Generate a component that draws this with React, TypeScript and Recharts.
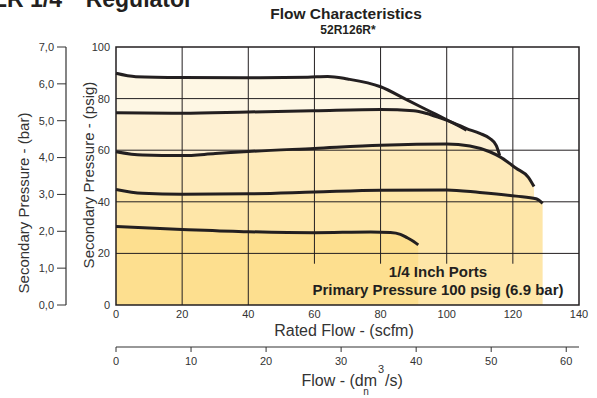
import { ComposedChart, Area, Line, XAxis, YAxis, ReferenceLine, ReferenceArea } from "recharts"

// 52R126R* flow curves (scfm -> psig)
const flowA = [0, 6, 20, 40, 58, 64, 70, 80, 88, 95, 100, 106]
const psigA = [89.8, 88.5, 88.2, 88.1, 88.3, 88.6, 87.6, 84.6, 79.5, 75, 71.8, 67.8]

const flowB = [0, 20, 40, 60, 80, 90, 94, 98, 102, 106, 110, 113, 115, 116]
const psigB = [74.5, 74.3, 74.8, 75.3, 75.8, 75.3, 74.2, 72.5, 70.6, 68.4, 66.5, 64.6, 61.8, 58]

const flowC = [0, 8, 20, 30, 40, 60, 80, 100, 107, 113, 116, 121, 124.7, 126.4]
const psigC = [59.4, 58.1, 57.9, 58.7, 59.5, 60.7, 61.9, 62.4, 61.6, 59.4, 57.5, 53, 49.5, 45.9]

const flowD = [0, 8, 20, 40, 60, 80, 100, 110, 121, 127, 129]
const psigD = [44.8, 43.3, 42.9, 43.1, 43.8, 44.5, 44.6, 43.6, 42.2, 41.2, 39.4]

const flowE = [0, 10, 20, 40, 60, 77, 83, 86, 88, 90, 91.4]
const psigE = [30.4, 29.8, 29.3, 28.4, 28.0, 28.3, 28.1, 27.4, 26.1, 24.6, 23.3]

const scfmTicks = [0, 20, 40, 60, 80, 100, 120, 140]
const psigTicks = [0, 20, 40, 60, 80, 100]
const barTicks = [0, 1, 2, 3, 4, 5, 6, 7]
const dmTicks = [0, 10, 20, 30, 40, 50, 60]
const vGrid = [20, 40, 60, 80, 100, 120]
const hGrid = [20, 40, 60, 80]

const FILLS = ["#FEF7E4", "#FEF0D2", "#FEEABA", "#FEE6A8", "#FDDF8F"]
const INK = "#231F20"
const FONT = "'Liberation Sans', Arial, Helvetica, sans-serif"
const GRID_CUT = 16 // vertical lines right of 50 scfm stop above the note

// axis ids: recharts stacks them by id, "a-" sits next to the plot
const X_SCFM = "a-scfm"
const X_DM = "b-dm"
const Y_PSIG = "a-psig"
const Y_BAR = "b-bar"

function toPoints(flow: number[], psig: number[]) {
  return flow.map((f, i) => ({ flow: f, psig: psig[i] }))
}

const curves = [
  toPoints(flowA, psigA),
  toPoints(flowB, psigB),
  toPoints(flowC, psigC),
  toPoints(flowD, psigD),
  toPoints(flowE, psigE),
]

const tickStyle = { fontSize: 11, fill: "#333", fontFamily: FONT }

function barFormat(v: number): string {
  return v.toFixed(1).replace(".", ",")
}

export default function App() {
  return (
    <div style={{ position: "absolute", left: 0, top: 0, width: 597, height: 398, background: "#fff" }}>
      <ComposedChart width={597} height={398} margin={{ top: 47, right: 18, bottom: 6, left: 6 }}>
        <XAxis
          xAxisId={X_SCFM}
          dataKey="flow"
          type="number"
          domain={[0, 140]}
          ticks={scfmTicks}
          interval={0}
          axisLine={false}
          tickLine={false}
          tickSize={3}
          tickMargin={2}
          height={42}
          tick={tickStyle}
        />
        <XAxis
          xAxisId={X_DM}
          dataKey="flow"
          type="number"
          domain={[0, 61.7]}
          allowDataOverflow
          ticks={dmTicks}
          interval={0}
          axisLine={{ stroke: "#333", strokeWidth: 1.2 }}
          tickLine={{ stroke: "#333" }}
          tickSize={5}
          tickMargin={5}
          height={45}
          tick={tickStyle}
        />
        <YAxis
          yAxisId={Y_PSIG}
          type="number"
          domain={[0, 100]}
          ticks={psigTicks}
          interval={0}
          axisLine={false}
          tickLine={false}
          tickSize={2}
          tickMargin={4}
          width={50}
          tick={tickStyle}
        />
        <YAxis
          yAxisId={Y_BAR}
          type="number"
          domain={[0, 7]}
          allowDataOverflow
          ticks={barTicks}
          interval={0}
          tickFormatter={barFormat}
          axisLine={{ stroke: "#333", strokeWidth: 1.2 }}
          tickLine={{ stroke: "#333" }}
          tickSize={9}
          tickMargin={3}
          width={60}
          tick={tickStyle}
        />

        {curves.map((pts, i) => (
          <Area
            key={"area" + i}
            data={pts}
            dataKey="psig"
            xAxisId={X_SCFM}
            yAxisId={Y_PSIG}
            type="monotone"
            fill={FILLS[i]}
            fillOpacity={1}
            stroke="none"
            isAnimationActive={false}
          />
        ))}

        {hGrid.map((y) => (
          <ReferenceLine key={"h" + y} y={y} xAxisId={X_SCFM} yAxisId={Y_PSIG} stroke={INK} strokeWidth={1} />
        ))}
        {vGrid.map((x) => (
          <ReferenceLine
            key={"v" + x}
            segment={[
              { x, y: x > 50 ? GRID_CUT : 0 },
              { x, y: 100 },
            ]}
            xAxisId={X_SCFM}
            yAxisId={Y_PSIG}
            stroke={INK}
            strokeWidth={1}
          />
        ))}

        {curves.map((pts, i) => (
          <Line
            key={"line" + i}
            data={pts}
            dataKey="psig"
            xAxisId={X_SCFM}
            yAxisId={Y_PSIG}
            type="monotone"
            stroke={INK}
            strokeWidth={3}
            dot={false}
            activeDot={false}
            isAnimationActive={false}
          />
        ))}

        <ReferenceArea
          x1={0}
          x2={140}
          y1={0}
          y2={100}
          xAxisId={X_SCFM}
          yAxisId={Y_PSIG}
          fill="none"
          fillOpacity={0}
          stroke={INK}
          strokeWidth={1.5}
        />
      </ComposedChart>

      <svg
        width={597}
        height={398}
        style={{ position: "absolute", left: 0, top: 0, pointerEvents: "none" }}
        fontFamily={FONT}
      >
        <text x={193} y={7} textAnchor="end" fontSize={23} fontWeight="bold" fill={INK}>
          {"ER 1/4\"\u00a0\u00a0Regulator"}
        </text>
        <text x={346} y={19} textAnchor="middle" fontSize={15.5} fontWeight="bold" fill={INK}>
          Flow Characteristics
        </text>
        <text x={348} y={34} textAnchor="middle" fontSize={12} fontWeight="bold" fill={INK}>
          52R126R*
        </text>
        <text x={438} y={277} textAnchor="middle" fontSize={15} fontWeight="bold" fill={INK}>
          1/4 Inch Ports
        </text>
        <text x={438} y={295} textAnchor="middle" fontSize={15} fontWeight="bold" fill={INK}>
          Primary Pressure 100 psig (6.9 bar)
        </text>
        <text x={344} y={336} textAnchor="middle" fontSize={16} fill="#333">
          Rated Flow - (scfm)
        </text>
        <text x={377} y={386} textAnchor="end" fontSize={16} fill="#333">
          Flow - (dm
        </text>
        <text x={378} y={373} fontSize={11} fill="#333">
          3
        </text>
        <text x={366} y={395} textAnchor="middle" fontSize={10} fill="#333">
          n
        </text>
        <text x={385} y={386} fontSize={16} fill="#333">
          /s)
        </text>
        <text
          x={23}
          y={203}
          transform="rotate(-90, 23, 203)"
          textAnchor="middle"
          dominantBaseline="central"
          fontSize={15}
          fill="#333"
        >
          Secondary Pressure - (bar)
        </text>
        <text
          x={88}
          y={175}
          transform="rotate(-90, 88, 175)"
          textAnchor="middle"
          dominantBaseline="central"
          fontSize={15}
          fill="#333"
        >
          Secondary Pressure - (psig)
        </text>
      </svg>
    </div>
  )
}
